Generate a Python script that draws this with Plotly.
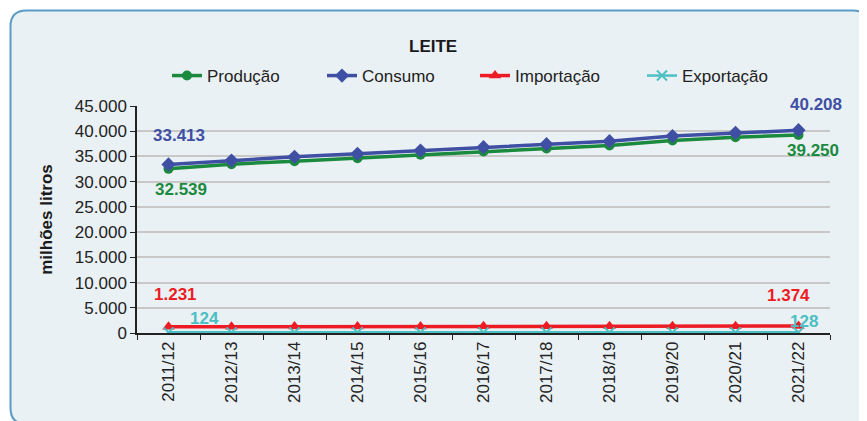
import plotly.graph_objects as go

categories = ["2011/12", "2012/13", "2013/14", "2014/15", "2015/16", "2016/17",
              "2017/18", "2018/19", "2019/20", "2020/21", "2021/22"]
producao = [32539, 33470, 34070, 34660, 35320, 35980, 36570, 37170, 38160, 38820, 39250]
consumo = [33413, 34180, 34920, 35510, 36170, 36840, 37440, 38030, 39030, 39680, 40208]
importacao = [1231, 1245, 1270, 1285, 1300, 1315, 1330, 1340, 1350, 1360, 1374]
exportacao = [124, 120, 118, 125, 122, 126, 127, 125, 126, 127, 128]
y_ticks = [0, 5000, 10000, 15000, 20000, 25000, 30000, 35000, 40000, 45000]

C_PROD = "#1B8A3E"
C_CONS = "#3F4FA3"
C_IMP = "#ED1C24"
C_EXP = "#4BBFC3"
FONT = "Liberation Sans, Arial, sans-serif"

# page body has an 8px margin; the figure is offset by it
OFF = 8
W, H = 867 - OFF, 421 - OFF
PL, PR, PT, PB = 137 - OFF, 830 - OFF, 106 - OFF, 333 - OFF


def px2paper(px, py):
    # px, py in screenshot pixels
    px -= OFF
    py -= OFF
    return (px - PL) / (PR - PL), (PB - py) / (PB - PT)


fig = go.Figure()
fig.add_trace(go.Scatter(x=categories, y=producao, name="Produção", mode="lines+markers",
                         line=dict(color=C_PROD, width=3.5),
                         marker=dict(symbol="circle", size=10, color=C_PROD), legend="legend"))
fig.add_trace(go.Scatter(x=categories, y=consumo, name="Consumo", mode="lines+markers",
                         line=dict(color=C_CONS, width=3.5),
                         marker=dict(symbol="diamond", size=11, color=C_CONS), legend="legend2"))
fig.add_trace(go.Scatter(x=categories, y=importacao, name="Importação", mode="lines+markers",
                         line=dict(color=C_IMP, width=3.5),
                         marker=dict(symbol="triangle-up", size=11, color=C_IMP), legend="legend3"))
fig.add_trace(go.Scatter(x=categories, y=exportacao, name="Exportação", mode="lines+markers",
                         line=dict(color=C_EXP, width=2.5),
                         marker=dict(symbol="x-thin", size=10, color=C_EXP,
                                     line=dict(color=C_EXP, width=2)), legend="legend4"))


def fmt(v):
    return f"{v:,}".replace(",", ".")


labels = [
    (categories[0], consumo[0], C_CONS, 10, 29),
    (categories[0], producao[0], C_PROD, 12, -21),
    (categories[-1], consumo[-1], C_CONS, 17, 26),
    (categories[-1], producao[-1], C_PROD, 14, -15),
    (categories[0], importacao[0], C_IMP, 7, 32),
    (categories[0], exportacao[0], C_EXP, 36, 14),
    (categories[-1], importacao[-1], C_IMP, -10, 31),
    (categories[-1], exportacao[-1], C_EXP, 5, 11),
]
for cx, cy, col, xs, ys in labels:
    fig.add_annotation(x=cx, y=cy, text=fmt(cy), showarrow=False, xshift=xs, yshift=ys,
                       xanchor="center", yanchor="middle",
                       font=dict(family=FONT, size=17, color=col, weight="bold"))

# rounded background box
bx0, by0, bx1, by1, r = 10.5, 10.5, 869, 424, 16
def P(px, py):
    x, y = px2paper(px, py)
    return f"{x:.5f},{y:.5f}"
path = (f"M {P(bx0 + r, by0)} L {P(bx1 - r, by0)} Q {P(bx1, by0)} {P(bx1, by0 + r)} "
        f"L {P(bx1, by1 - r)} Q {P(bx1, by1)} {P(bx1 - r, by1)} "
        f"L {P(bx0 + r, by1)} Q {P(bx0, by1)} {P(bx0, by1 - r)} "
        f"L {P(bx0, by0 + r)} Q {P(bx0, by0)} {P(bx0 + r, by0)} Z")
fig.add_shape(type="path", path=path, xref="paper", yref="paper", layer="below",
              fillcolor="#EAF1F5", line=dict(color="#5B9BC5", width=2))

# title
tx, ty = px2paper(433, 47)
fig.add_annotation(x=tx, y=ty, xref="paper", yref="paper", text="LEITE", showarrow=False,
                   xanchor="center", yanchor="middle",
                   font=dict(family=FONT, size=17, color="#1a1a1a", weight="bold"))

legend_common = dict(orientation="h", bgcolor="rgba(0,0,0,0)", borderwidth=0,
                     font=dict(family=FONT, size=17, color="#222222"),
                     xref="container", yref="container",
                     xanchor="left", yanchor="middle", itemwidth=30)
leg_pos = [167, 322, 475, 642]
legs = {}
for i, lx in enumerate(leg_pos):
    key = "legend" if i == 0 else f"legend{i + 1}"
    legs[key] = dict(legend_common, x=(lx - OFF) / W, y=1 - (76 - OFF) / H)

fig.update_layout(
    width=W, height=H,
    margin=dict(l=PL, r=W - PR, t=PT, b=H - PB, autoexpand=False),
    paper_bgcolor="white", plot_bgcolor="rgba(0,0,0,0)",
    separators=",.",
    showlegend=True,
    font=dict(family=FONT, size=17, color="#222222"),
    **legs,
)
fig.update_xaxes(type="category", range=[-0.5, len(categories) - 0.5], tickangle=-90,
                 tickson="boundaries", ticks="outside", ticklen=5, tickcolor="#222222",
                 showline=True, linecolor="#222222", linewidth=1.5, showgrid=False,
                 automargin=False, layer="below traces",
                 tickfont=dict(family=FONT, size=17, color="#222222"))
fig.update_yaxes(range=[0, 45000], tickvals=y_ticks, tickformat=",d",
                 ticks="outside", ticklen=5, tickcolor="#222222",
                 showline=True, linecolor="#222222", linewidth=1.5,
                 showgrid=True, gridcolor="#C8C8C8", gridwidth=1.5, zeroline=False,
                 automargin=False, layer="below traces",
                 tickfont=dict(family=FONT, size=17, color="#222222"),
                 title=dict(text="milhões litros", standoff=18,
                            font=dict(family=FONT, size=17, color="#1a1a1a", weight="bold")))

fig.write_html("out.html")
